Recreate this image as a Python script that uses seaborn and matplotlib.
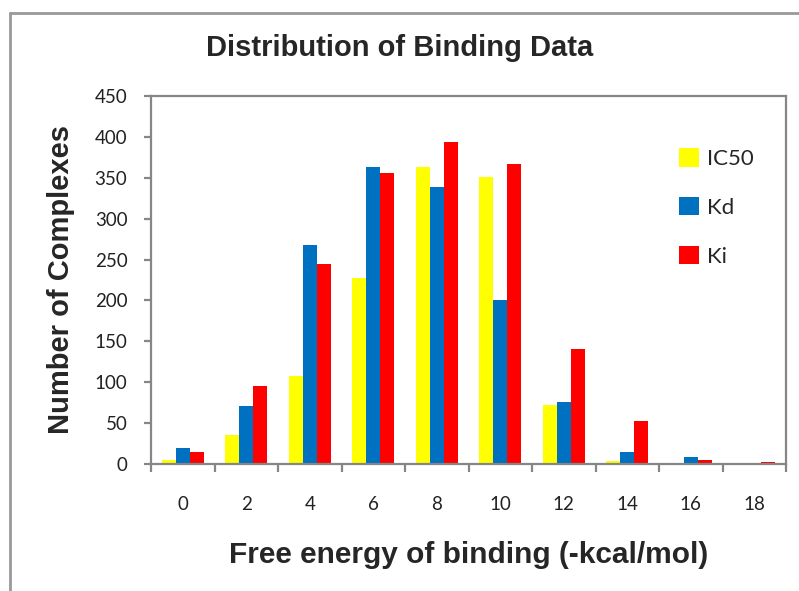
import matplotlib
matplotlib.use("Agg")
import matplotlib.pyplot as plt
import seaborn as sns
import pandas as pd
import numpy as np
from matplotlib.lines import Line2D
from matplotlib.ticker import FixedLocator

bins = ["0", "2", "4", "6", "8", "10", "12", "14", "16", "18"]
ic50 = [5, 36, 108, 227, 363, 351, 72, 4, 0, 0]
kd = [19, 71, 268, 363, 339, 200, 76, 15, 9, 0]
ki = [15, 95, 244, 356, 394, 367, 141, 53, 5, 2]
series = ["IC50", "Kd", "Ki"]
colors = ["#FFFF00", "#0070C0", "#FF0000"]

df = pd.DataFrame({
    "bin": bins * 3,
    "count": ic50 + kd + ki,
    "type": [s for s in series for _ in bins],
})

sns.set_theme(style="white")
plt.rcParams["font.family"] = ["Lato", "DejaVu Sans"]

fig = plt.figure(figsize=(7.99, 5.91), dpi=100)
ax = fig.add_axes([151/799, 1-464/591, (786-151)/799, (464-96)/591])

sns.barplot(data=df, x="bin", y="count", hue="type", hue_order=series,
            palette=colors, width=0.66, saturation=1, ax=ax, legend=True)
for p in ax.patches:
    p.set_linewidth(0)

ax.set_ylim(0, 450)
ax.set_xlim(-0.5, 9.5)
ax.set_yticks(range(0, 451, 50))
gray = "#868686"
for s in ax.spines.values():
    s.set_color(gray)
    s.set_linewidth(1.6)

ax.tick_params(axis="y", which="major", direction="out", length=5, width=1.6,
               color=gray, labelsize=13.5, pad=12, left=True)
ax.tick_params(axis="x", which="major", length=0, labelsize=13.5, pad=23)
ax.xaxis.set_minor_locator(FixedLocator(np.arange(-0.5, 10, 1.0)))
ax.tick_params(axis="x", which="minor", direction="out", length=6, width=1.6,
               color=gray, bottom=True)
for lbl in ax.get_xticklabels() + ax.get_yticklabels():
    lbl.set_color("#222222")

bold_fam = ["Liberation Sans", "DejaVu Sans"]
ax.set_xlabel("Free energy of binding (-kcal/mol)", fontsize=21.5,
              fontweight="bold", family=bold_fam, labelpad=20)
ax.set_ylabel("Number of Complexes", fontsize=21, fontweight="bold",
              family=bold_fam, labelpad=14)
fig.text(0.5, 1-48/591, "Distribution of Binding Data", ha="center",
         va="center", fontsize=21, fontweight="bold", family=bold_fam)

leg = ax.legend(loc="upper left", bbox_to_anchor=(0.80, 0.912), frameon=False,
                handlelength=0.9, handleheight=0.9, labelspacing=1.25,
                handletextpad=0.35, fontsize=16)

fig.add_artist(Line2D([10/799, 1], [1-13/591, 1-13/591], color="#999999",
                      lw=2, transform=fig.transFigure))
fig.add_artist(Line2D([10/799, 10/799], [0, 1-13/591], color="#999999",
                      lw=2, transform=fig.transFigure))

fig.savefig("out.png", dpi=100)
